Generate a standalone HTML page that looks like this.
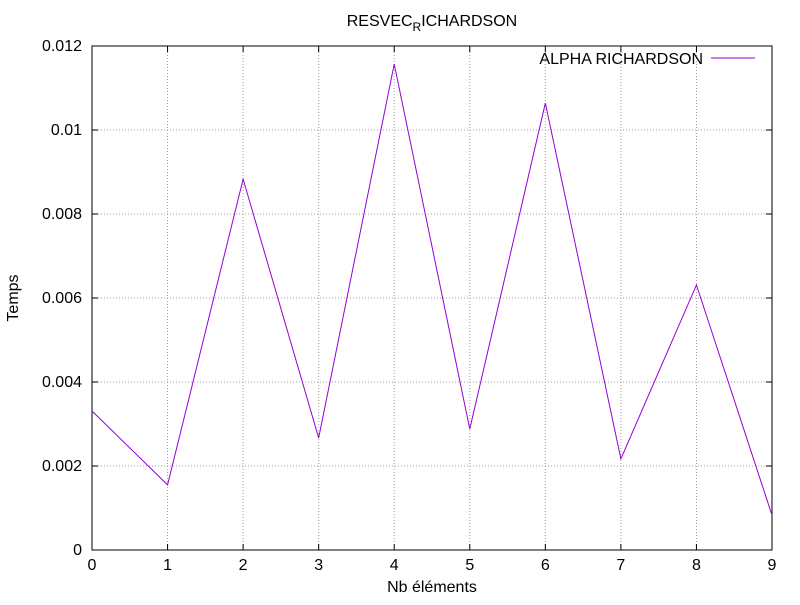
<!DOCTYPE html>
<html><head><meta charset="utf-8"><style>
body{margin:0;background:#fff}
svg text{font-family:"Liberation Sans",sans-serif;font-size:16px;fill:#000}
</style></head><body>
<svg id="chart" width="800" height="600" xmlns="http://www.w3.org/2000/svg">
<rect width="800" height="600" fill="#fff"/>
<g id="grid"></g>
<g id="axes"></g>
<text x="432" y="26" text-anchor="middle">RESVEC<tspan font-size="12" dy="5">R</tspan><tspan dy="-5">ICHARDSON</tspan></text>
<text x="432" y="592" text-anchor="middle">Nb éléments</text>
<text transform="translate(18,298) rotate(-90)" text-anchor="middle">Temps</text>
<g>
<text x="703" y="64" text-anchor="end">ALPHA RICHARDSON</text>
<line x1="711" y1="58" x2="755" y2="58" stroke="#9400d3" stroke-width="1"/>
</g>
<polyline id="series" fill="none" stroke="#9400d3" stroke-width="1"/>
</svg>
<script>
const xCategories=[0,1,2,3,4,5,6,7,8,9];
const yValues=[0.00331,0.00155,0.00883,0.00267,0.01157,0.00288,0.01064,0.00217,0.00631,0.00083];
const xTicks=[0,1,2,3,4,5,6,7,8,9];
const yTicks=[0,0.002,0.004,0.006,0.008,0.01,0.012];
const yTickLabels=["0","0.002","0.004","0.006","0.008","0.01","0.012"];
const L=92,R=772,T=46,B=550;
const xs=v=>L+(v-0)/9*(R-L);
const ys=v=>B-(v/0.012)*(B-T);
const NS="http://www.w3.org/2000/svg";
const grid=document.getElementById('grid'),axes=document.getElementById('axes');
function mk(t,a,p){const e=document.createElementNS(NS,t);for(const k in a)e.setAttribute(k,a[k]);p.appendChild(e);return e;}
xTicks.forEach(v=>{
 const x=xs(v);
 if(v>0&&v<9){const g=mk('line',{x1:x,y1:T,x2:x,y2:B,stroke:'#a0a0a0','stroke-dasharray':'1,2'},grid);
 
 }
 const t=mk('line',{x1:x,y1:B,x2:x,y2:B-6,stroke:'#000'},axes);
 
 
 const t2=mk('line',{x1:x,y1:T,x2:x,y2:T+6,stroke:'#000'},axes);
 
 
 const l=mk('text',{x:x,y:B+20,'text-anchor':'middle'},axes);l.textContent=v;
 
 
});
yTicks.forEach((v,i)=>{
 const y=ys(v);
 if(i>0&&i<yTicks.length-1){const g=mk('line',{x1:L,y1:y,x2:R,y2:y,stroke:'#a0a0a0','stroke-dasharray':'1,2'},grid);
 
 }
 const t=mk('line',{x1:L,y1:y,x2:L+6,y2:y,stroke:'#000'},axes);
 
 
 const t2=mk('line',{x1:R,y1:y,x2:R-6,y2:y,stroke:'#000'},axes);
 
 
 const l=mk('text',{x:L-10,y:y+5,'text-anchor':'end'},axes);l.textContent=yTickLabels[i];
 
 
});
const f=mk('rect',{x:L,y:T,width:R-L,height:B-T,fill:'none',stroke:'#000'},axes);


document.getElementById('series').setAttribute('points',xCategories.map((c,i)=>xs(c)+','+ys(yValues[i])).join(' '));
</script>
</body></html>
